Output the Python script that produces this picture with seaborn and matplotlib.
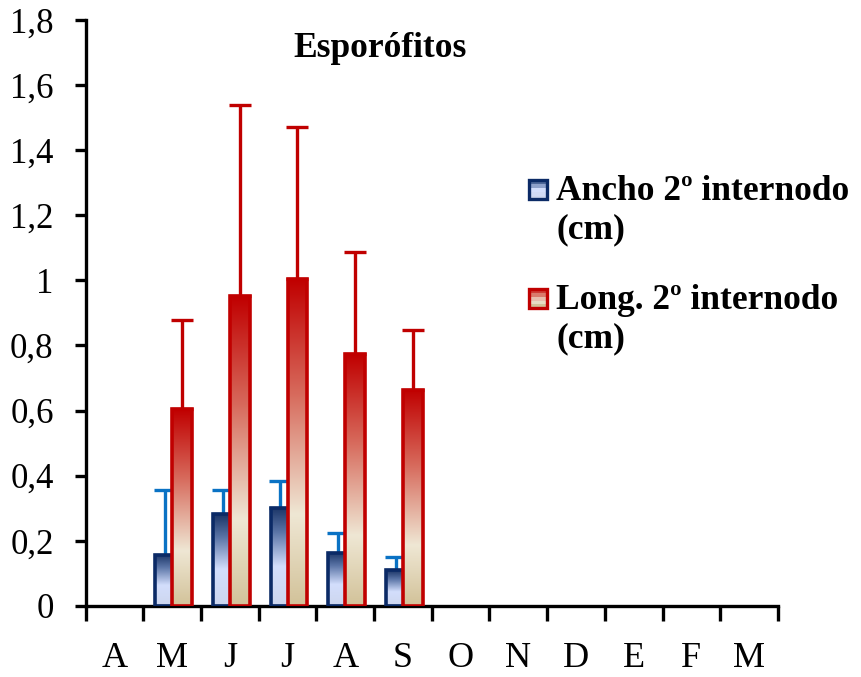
import numpy as np
import pandas as pd
import matplotlib
matplotlib.use("Agg")
import matplotlib.pyplot as plt
import seaborn as sns
from matplotlib.colors import LinearSegmentedColormap
from matplotlib.patches import Rectangle
from matplotlib.legend_handler import HandlerBase

# Monthly data (April to March); months without samples are NaN
months = ["A", "M", "J", "J", "A", "S", "O", "N", "D", "E", "F", "M"]
ancho_mean = [np.nan, 0.157, 0.281, 0.302, 0.163, 0.110, np.nan, np.nan, np.nan, np.nan, np.nan, np.nan]
ancho_sd = [np.nan, 0.199, 0.075, 0.083, 0.061, 0.039, np.nan, np.nan, np.nan, np.nan, np.nan, np.nan]
long_mean = [np.nan, 0.605, 0.952, 1.004, 0.774, 0.664, np.nan, np.nan, np.nan, np.nan, np.nan, np.nan]
long_sd = [np.nan, 0.273, 0.587, 0.468, 0.313, 0.184, np.nan, np.nan, np.nan, np.nan, np.nan, np.nan]
series = ["Ancho 2º internodo\n(cm)", "Long. 2º internodo\n(cm)"]
yticks = [0, 0.2, 0.4, 0.6, 0.8, 1.0, 1.2, 1.4, 1.6, 1.8]
ytick_labels = ["0", "0,2", "0,4", "0,6", "0,8", "1", "1,2", "1,4", "1,6", "1,8"]

slots = [f"{i:02d}" for i in range(len(months))]
df = pd.DataFrame({
    "slot": slots * 2,
    "serie": [series[0]] * len(months) + [series[1]] * len(months),
    "valor": ancho_mean + long_mean,
})
sd_by_series = [ancho_sd, long_sd]
mean_by_series = [ancho_mean, long_mean]

sns.set_theme(style="white")
plt.rcParams["font.family"] = ["Liberation Serif", "DejaVu Serif"]
plt.rcParams["text.color"] = "black"

edge_cols = ["#0b2a66", "#c00000"]
err_cols = ["#0a72c4", "#c00000"]
cmaps = [
    LinearSegmentedColormap.from_list("azul", [(0.0, "#1a3466"), (0.25, "#5a74a6"),
                                               (0.6, "#d3defc"), (1.0, "#cdd6ee")]),
    LinearSegmentedColormap.from_list("rojo", [(0.0, "#c00000"), (0.35, "#d76a5c"),
                                               (0.72, "#efe7d4"), (1.0, "#d2c299")]),
]

fig = plt.figure(figsize=(8.61, 6.77), dpi=100)
ax = fig.add_axes([0.0995, 0.105, 0.804, 0.8655])

sns.barplot(data=df, x="slot", y="valor", hue="serie", order=slots,
            hue_order=series, width=0.68, errorbar=None, legend=False,
            palette=["#d3defc", "#efe7d4"], ax=ax)
bar_containers = list(ax.containers)[:2]

shifts = [0.045, 0.0]
grad = np.linspace(1, 0, 256).reshape(-1, 1)
for k, cont in enumerate(bar_containers):
    xs, tops, sds = [], [], []
    for patch in cont.patches:
        h = patch.get_height()
        if not np.isfinite(h):
            continue
        i = int(round(patch.get_x() + patch.get_width() / 2))
        patch.set_x(patch.get_x() + shifts[k])
        x0, w = patch.get_x(), patch.get_width()
        patch.set_facecolor("none")
        patch.set_edgecolor(edge_cols[k])
        patch.set_linewidth(2.6)
        patch.set_zorder(3 + 2 * k)
        im = ax.imshow(grad, cmap=cmaps[k].reversed(), aspect="auto",
                       extent=[x0, x0 + w, 0, h], zorder=2 + 2 * k,
                       interpolation="bilinear")
        im.set_clip_path(patch)
        xs.append(x0 + w / 2)
        tops.append(mean_by_series[k][i])
        sds.append(sd_by_series[k][i])
    ax.errorbar(xs, tops, yerr=[np.zeros(len(sds)), sds], fmt="none",
                ecolor=err_cols[k], elinewidth=2.4, capsize=8, capthick=2.4,
                zorder=1)

ax.set_xlim(-0.5, len(months) - 0.5)
ax.set_ylim(0, 1.8)
ax.set_yticks(yticks)
ax.set_yticklabels(ytick_labels)
ax.set_xticks(range(len(months)))
ax.set_xticklabels(months)
ax.set_xticks(np.arange(-0.5, len(months)), minor=True)
ax.set_xlabel("")
ax.set_ylabel("")

for side in ["top", "right"]:
    ax.spines[side].set_visible(False)
for side in ["left", "bottom"]:
    ax.spines[side].set_color("black")
    ax.spines[side].set_linewidth(2.4)

ax.tick_params(axis="y", which="major", direction="out", length=8, width=2.4,
               color="black", labelsize=25, pad=15, left=True)
ax.tick_params(axis="x", which="major", length=0, labelsize=26, pad=26)
ax.tick_params(axis="x", which="minor", direction="out", length=11, width=2.4,
               color="black", bottom=True)
for lab in ax.get_xticklabels() + ax.get_yticklabels():
    lab.set_color("black")

ax.text(0.425, 0.952, "Esporófitos", transform=ax.transAxes, ha="center",
        va="center", fontsize=25.5, fontweight="bold", color="black")


class StripedHandle(HandlerBase):
    def __init__(self, cmap, edge):
        super().__init__()
        self.cmap = cmap
        self.edge = edge

    def create_artists(self, legend, orig_handle, xdescent, ydescent, width,
                       height, fontsize, trans):
        size = 0.53 * fontsize
        x0 = -xdescent
        y0 = -ydescent + height / 2 + 0.33 * fontsize
        arts = []
        n = 5
        for i in range(n):
            arts.append(Rectangle((x0, y0 + size * (n - 1 - i) / n), size, size / n,
                                  facecolor=self.cmap(0.2 + 0.8 * i / (n - 1)),
                                  edgecolor="none", transform=trans))
        arts.append(Rectangle((x0, y0), size, size, facecolor="none",
                              edgecolor=self.edge, linewidth=2.4, transform=trans))
        return arts


h1, h2 = Rectangle((0, 0), 1, 1), Rectangle((0, 0), 1, 1)
leg = fig.legend([h1, h2], series, loc="upper left",
                 bbox_to_anchor=(0.614, 0.741), frameon=False,
                 prop={"family": "Liberation Serif", "weight": "bold", "size": 25.5},
                 handler_map={h1: StripedHandle(cmaps[0], edge_cols[0]),
                              h2: StripedHandle(cmaps[1], edge_cols[1])},
                 handlelength=0.55, handletextpad=0.23, labelspacing=1.07,
                 borderpad=0, borderaxespad=0)
for t in leg.get_texts():
    t.set_color("black")

fig.savefig("out.png", dpi=100, facecolor="white")
